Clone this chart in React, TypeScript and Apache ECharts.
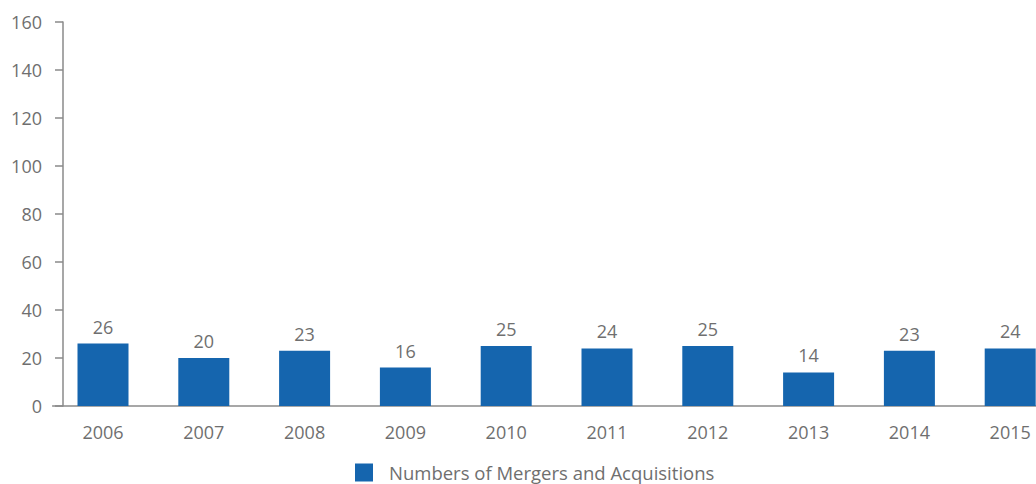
import React, { useEffect, useRef } from "react";
import * as echarts from "echarts";

const categories = ["2006", "2007", "2008", "2009", "2010", "2011", "2012", "2013", "2014", "2015"];
const mergers = [26, 20, 23, 16, 25, 24, 25, 14, 23, 24];
const seriesName = "Numbers of Mergers and Acquisitions";

const TEXT = "#6f6f6f";
const AXIS = "#8a8a8a";
const BAR = "#1565ae";
const FONT = "Open Sans";

export default function App() {
  const ref = useRef<HTMLDivElement>(null);
  useEffect(() => {
    if (!ref.current) return;
    const chart = echarts.init(ref.current, undefined, { renderer: "svg" });
    chart.setOption({
      animation: false,
      textStyle: { fontFamily: FONT },
      grid: { left: 52.6, width: 1008, top: 22, bottom: 78, outerBoundsMode: "none" },
      legend: {
        left: 350,
        bottom: -3,
        itemWidth: 18,
        itemHeight: 18,
        itemGap: 10,
        icon: "rect",
        textStyle: { color: TEXT, fontSize: 18.5, fontFamily: FONT, padding: [0, 0, 0, 11] },
        data: [seriesName],
      },
      xAxis: {
        type: "category",
        data: categories,
        boundaryGap: true,
        axisLine: { show: true, lineStyle: { color: AXIS, width: 1.5 } },
        axisTick: { show: false },
        axisLabel: { color: TEXT, fontSize: 18, margin: 17, fontFamily: FONT },
      },
      yAxis: {
        type: "value",
        min: 0,
        max: 160,
        interval: 20,
        offset: -10.4,
        axisLine: { show: true, lineStyle: { color: AXIS, width: 1.5 } },
        axisTick: { show: true, length: 8, lineStyle: { color: AXIS, width: 1.5 } },
        splitLine: { show: false },
        axisLabel: { color: TEXT, fontSize: 18, margin: 21, fontFamily: FONT },
      },
      series: [
        {
          name: seriesName,
          type: "bar",
          data: mergers,
          barWidth: 51,
          itemStyle: { color: BAR },
          label: {
            show: true,
            position: "top",
            distance: 8,
            color: TEXT,
            fontSize: 18,
            fontFamily: FONT,
          },
        },
      ],
    });
    return () => chart.dispose();
  }, []);
  return (
    <div
      ref={ref}
      style={{ position: "fixed", left: 0, top: 0, width: 1036, height: 484, background: "#fff" }}
    />
  );
}
